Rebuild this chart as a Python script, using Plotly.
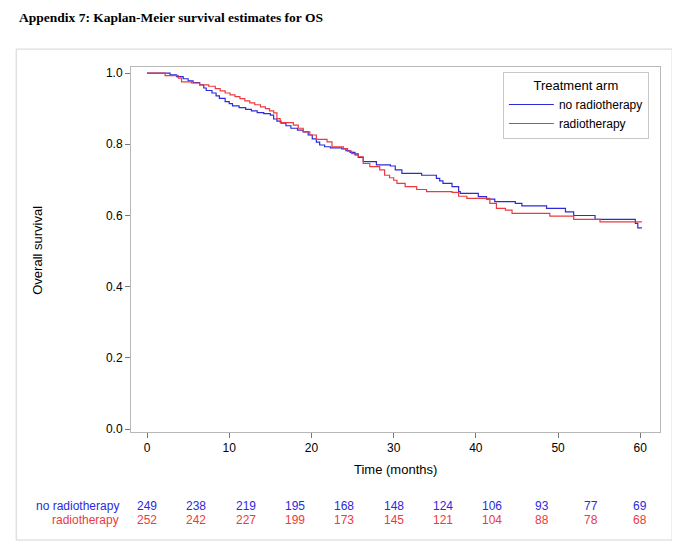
import plotly.graph_objects as go

# Kaplan-Meier step estimates (time in months, survival)
t_no_rt = [0, 2.8, 3.6, 4.4, 5.0, 5.6, 6.4, 6.9, 7.2, 7.9, 8.4, 8.8, 9.5, 10.0, 10.4, 11.2,
           12.0, 12.7, 13.4, 14.2, 15.0, 15.4, 15.8, 16.3, 16.9, 17.5, 18.3, 19.0, 19.6,
           20.1, 20.6, 21.0, 21.6, 22.3, 23.7, 24.2, 24.7, 25.3, 25.7, 26.3, 27.9, 29.6,
           30.2, 31.0, 33.4, 35.2, 35.6, 36.0, 37.1, 37.9, 38.1, 40.3, 41.3, 42.3, 44.8,
           45.6, 48.6, 50.9, 51.9, 54.5, 59.4, 59.7, 60.2]
s_no_rt = [1.0, 0.995, 0.99, 0.984, 0.978, 0.973, 0.967, 0.958, 0.951, 0.944, 0.936, 0.929,
           0.92, 0.914, 0.908, 0.903, 0.898, 0.894, 0.889, 0.886, 0.882, 0.871, 0.865, 0.859,
           0.852, 0.845, 0.84, 0.835, 0.826, 0.815, 0.806, 0.798, 0.793, 0.79, 0.787, 0.782,
           0.777, 0.77, 0.763, 0.751, 0.742, 0.739, 0.728, 0.718, 0.713, 0.704, 0.697, 0.69,
           0.681, 0.667, 0.662, 0.653, 0.646, 0.639, 0.634, 0.627, 0.62, 0.61, 0.6, 0.589,
           0.578, 0.565, 0.565]

t_rt = [0, 2.2, 3.8, 4.2, 5.4, 6.4, 7.5, 8.3, 8.9, 9.5, 10.1, 10.7, 11.3, 11.9, 12.5, 13.1,
        13.8, 14.4, 14.9, 15.4, 15.8, 16.2, 17.8, 18.4, 19.0, 19.8, 20.6, 21.9, 22.5, 23.9,
        24.4, 24.9, 25.7, 26.3, 27.1, 28.3, 28.9, 29.5, 30.0, 30.4, 31.4, 32.8, 34.0, 37.1,
        37.9, 38.9, 41.7, 42.5, 43.6, 44.4, 49.0, 51.9, 55.1, 60.2]
s_rt = [1.0, 0.993, 0.986, 0.975, 0.972, 0.967, 0.963, 0.956, 0.95, 0.944, 0.939, 0.934,
        0.928, 0.922, 0.916, 0.911, 0.905, 0.9, 0.894, 0.888, 0.872, 0.861, 0.854, 0.845,
        0.835, 0.826, 0.814, 0.807, 0.793, 0.788, 0.781, 0.774, 0.765, 0.746, 0.737, 0.728,
        0.713, 0.706, 0.699, 0.69, 0.681, 0.673, 0.667, 0.665, 0.654, 0.648, 0.634, 0.62,
        0.615, 0.606, 0.598, 0.589, 0.582, 0.582]

# numbers at risk
risk_times = [0, 6, 12, 18, 24, 30, 36, 42, 48, 54, 60]
risk_no_rt = [249, 238, 219, 195, 168, 148, 124, 106, 93, 77, 69]
risk_rt = [252, 242, 227, 199, 173, 145, 121, 104, 88, 78, 68]

BLUE = "#2b2bdc"
RED = "#ec3a40"
FONT = "Liberation Sans, Arial, sans-serif"


def note(x, y, text, color="black", size=12, xref="paper", yanchor="middle", **kw):
    return dict(x=x, y=y, xref=xref, yref="paper", text=text, showarrow=False,
                yanchor=yanchor, font=dict(color=color, size=size, family=kw.pop("family", FONT)),
                **kw)


fig = go.Figure()
fig.add_trace(go.Scatter(x=t_no_rt, y=s_no_rt, mode="lines", line_shape="hv",
                         line=dict(color=BLUE, width=1.2), name="no radiotherapy"))
fig.add_trace(go.Scatter(x=t_rt, y=s_rt, mode="lines", line_shape="hv",
                         line=dict(color=RED, width=1.2), name="radiotherapy"))

annotations = []
for t, n in zip(risk_times, risk_no_rt):
    annotations.append(note(t, -0.203, str(n), BLUE, xref="x", xanchor="center"))
for t, n in zip(risk_times, risk_rt):
    annotations.append(note(t, -0.241, str(n), RED, xref="x", xanchor="center"))
annotations += [
    note(-0.019, -0.203, "no radiotherapy", BLUE, xanchor="right"),
    note(-0.019, -0.241, "radiotherapy", RED, xanchor="right"),
    note(-0.2155, 1.1616, "<b>Appendix 7: Kaplan-Meier survival estimates for OS</b>",
         size=13.5, xanchor="left", yanchor="top",
         family="Liberation Serif, Times New Roman, serif"),
    note(-0.176, 0.499, "Overall survival", size=13, xanchor="center", textangle=-90),
    note(0.5, -0.104, "Time (months)", size=13, xanchor="center"),
]

# the page body adds an 8px margin, so the figure's own margins are reduced by 8px
layout = go.Layout(
    width=680, height=552,
    margin=dict(l=123, r=28, t=59, b=128),
    paper_bgcolor="white", plot_bgcolor="white",
    font=dict(family=FONT, color="black", size=12),
    xaxis=dict(range=[-1.95, 62.4], tickvals=[0, 10, 20, 30, 40, 50, 60],
               showgrid=False, zeroline=False, showline=True, mirror=True,
               linecolor="#b8b8b8", linewidth=1, ticks="outside", ticklen=5,
               tickcolor="#777", tickfont=dict(size=12)),
    yaxis=dict(range=[-0.008, 1.017], tickvals=[0, 0.2, 0.4, 0.6, 0.8, 1.0],
               tickformat=".1f", showgrid=False, zeroline=False, showline=True,
               mirror=True, linecolor="#b8b8b8", linewidth=1, ticks="outside",
               ticklen=5, tickcolor="#777", tickfont=dict(size=12)),
    legend=dict(x=0.703, y=0.986, xanchor="left", yanchor="top",
                bordercolor="#c8c8c8", borderwidth=1, bgcolor="white",
                font=dict(size=12, family=FONT),
                title=dict(text="Treatment arm", side="top center",
                           font=dict(size=13, family=FONT)),
                tracegroupgap=0, itemwidth=45),
    shapes=[dict(type="rect", xref="paper", yref="paper", x0=-0.217, x1=1.023,
                 y0=-0.296, y1=1.049, line=dict(color="#d4d4d4", width=1))],
    annotations=annotations,
)
fig.update_layout(layout)

fig.write_html("out.html")
